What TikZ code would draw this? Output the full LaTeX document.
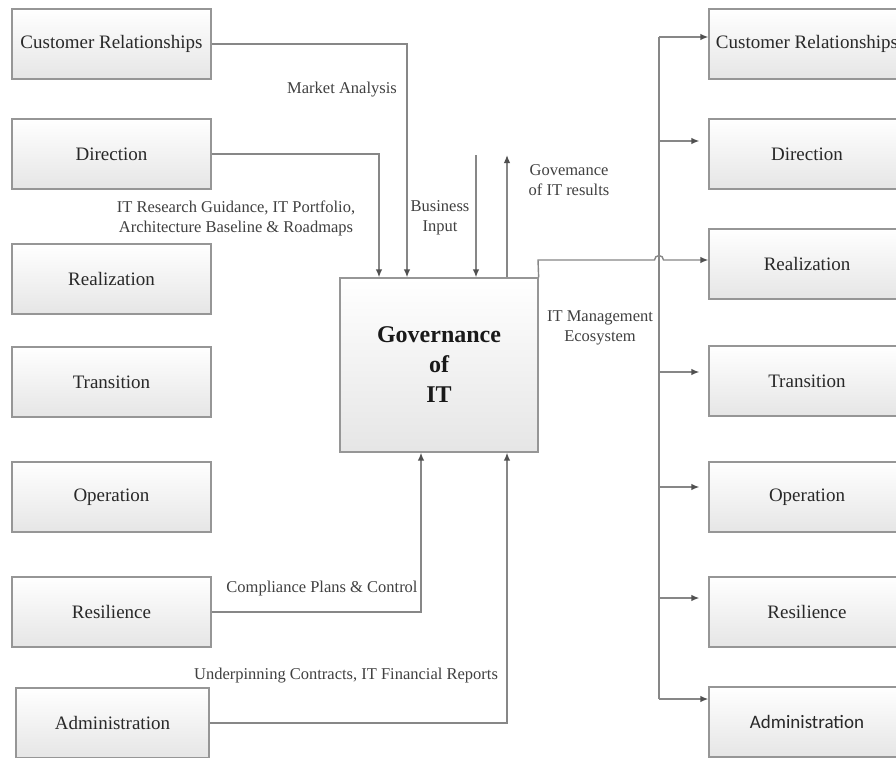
\documentclass[tikz,border=0pt]{standalone}
\usepackage{fontspec}
\setmainfont{Liberation Serif}
\newfontfamily\carlito{Carlito}
\usetikzlibrary{arrows.meta,shadows}

\definecolor{linegray}{RGB}{135,135,135}
\definecolor{edgegray}{RGB}{150,150,150}
\definecolor{tipgray}{RGB}{80,80,80}
\definecolor{txtgray}{RGB}{40,40,40}

\tikzset{
  unitbox/.style={draw=edgegray, line width=1.3pt, top color=white, bottom color=black!10,
    minimum width=199pt, minimum height=70pt, inner sep=0pt, text=txtgray,
    font=\fontsize{19}{22}\selectfont,
    drop shadow={shadow xshift=0.8pt, shadow yshift=-1.2pt, opacity=0.35, fill=black!60}},
  rightbox/.style={unitbox, minimum width=196pt},
  govbox/.style={unitbox, minimum width=198pt, minimum height=174pt, align=center,
    font=\fontsize{24}{30}\selectfont\bfseries, text=black!90},
  link/.style={draw=linegray, line width=1.4pt},
  arr/.style={link, -{Latex[length=8pt,width=6.5pt,color=tipgray]}},
  flowlabel/.style={font=\fontsize{16.5}{20}\selectfont, text=black!75, align=center, inner sep=0pt}
}

\begin{document}
\begin{tikzpicture}[x=1pt,y=-1pt]
\useasboundingbox (0,0) rectangle (896,757);
\fill[white] (0,0) rectangle (896,757);
\begin{scope}
\clip (0,0) rectangle (896,757);

% business units on the left
\node[unitbox] (lcr)  at (111.5,44)  {Customer Relationships};
\node[unitbox] (ldir) at (111.5,154) {Direction};
\node[unitbox] (lrea) at (111.5,279) {Realization};
\node[unitbox] (ltra) at (111.5,382) {Transition};
\node[unitbox] (lope) at (111.5,497) {Operation};
\node[unitbox] (lres) at (111.5,612) {Resilience};
\node[unitbox, minimum width=193pt] (ladm) at (112.5,723) {Administration};

% business units on the right
\node[rightbox] (rcr)  at (807,44)  {Customer Relationships};
\node[rightbox] (rdir) at (807,154) {Direction};
\node[rightbox] (rrea) at (807,264) {Realization};
\node[rightbox] (rtra) at (807,381) {Transition};
\node[rightbox] (rope) at (807,497) {Operation};
\node[rightbox] (rres) at (807,612) {Resilience};
\node[rightbox, font=\carlito\fontsize{19}{22}\selectfont] (radm) at (807,722) {Administration};

% central process
\node[govbox] (gov) at (439,365) {Governance\\of\\IT};

% inputs from the top
\draw[arr] (lcr.east) -| (gov.north west -| 407,0);
\draw[arr] (ldir.east) -| (gov.north west -| 379,0);
\coordinate (bizin) at (476,155);
\draw[arr] (bizin) -- (gov.north west -| 476,0);
\coordinate (govout) at (507,155);
\draw[arr] (gov.north west -| 507,0) -- (govout);

% inputs from the bottom
\draw[arr] (lres.east) -| (gov.south west -| 421,0);
\draw[arr] (ladm.east) -| (gov.south west -| 507,0);

% distribution bus to the right-hand units
\coordinate (bustop) at (659,37);
\coordinate (busbot) at (659,699);
\draw[link] (bustop) -- (busbot);
\draw[arr] (bustop) -- (rcr.west |- bustop);
\draw[arr, shorten >=9pt] (659,141) -- (rdir.west |- 0,141);
\draw[arr, shorten >=9pt] (659,372) -- (rtra.west |- 0,372);
\draw[arr, shorten >=9pt] (659,487) -- (rope.west |- 0,487);
\draw[arr, shorten >=9pt] (659,598) -- (rres.west |- 0,598);
\draw[arr] (busbot) -- (radm.west |- busbot);

% IT management ecosystem line, hopping over the bus
\draw[arr] (gov.north east) -- (538,260) -- (654.5,260)
  arc[start angle=180, end angle=360, radius=4.5] -- (rrea.west |- 0,260);

% flow labels
\node[flowlabel] (lbmarket) at (342,90) {Market Analysis};
\node[flowlabel] (lbresearch) at (236,218) {IT Research Guidance, IT Portfolio,\\Architecture Baseline \& Roadmaps};
\node[flowlabel] (lbbiz) at (440,218) {Business\\Input};
\node[flowlabel] (lbres) at (569,180) {Govemance\\of IT results};
\node[flowlabel] (lbeco) at (600,328) {IT Management\\Ecosystem};
\node[flowlabel] (lbcomp) at (322,589) {Compliance Plans \& Control};
\node[flowlabel] (lbfin) at (346,676) {Underpinning Contracts, IT Financial Reports};
\end{scope}
\end{tikzpicture}
\end{document}
